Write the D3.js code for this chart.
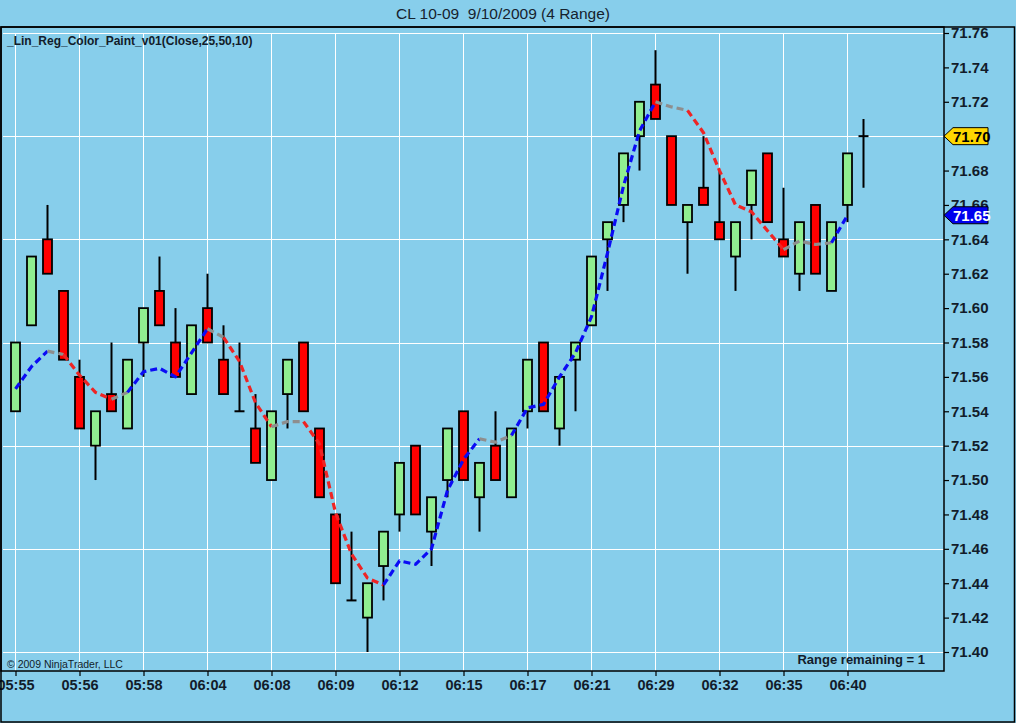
<!DOCTYPE html>
<html>
<head>
<meta charset="utf-8">
<title>CL 10-09 9/10/2009 (4 Range)</title>
<script src="https://cdn.jsdelivr.net/npm/d3@7/dist/d3.min.js"></script>
<style>
  html, body { margin: 0; padding: 0; background: #87ceeb; }
  svg { display: block; }
  .axis-label { font-family: "Liberation Sans Narrow", "Liberation Sans", Arial, sans-serif; font-weight: bold; }
</style>
</head>
<body>
<div id="chart"></div>
<script>
// Range bar chart (4 ticks) with a colour-painted linear regression line.

// ------------------------------------------------------------------
// Data
// ------------------------------------------------------------------
const opens  = [71.54, 71.59, 71.64, 71.61, 71.56, 71.52, 71.55, 71.53, 71.58, 71.61,
                71.58, 71.55, 71.60, 71.57, 71.54, 71.53, 71.50, 71.55, 71.58, 71.53,
                71.48, 71.43, 71.42, 71.45, 71.48, 71.52, 71.47, 71.50, 71.54, 71.49,
                71.52, 71.49, 71.54, 71.58, 71.53, 71.57, 71.59, 71.64, 71.66, 71.70,
                71.73, 71.70, 71.65, 71.67, 71.65, 71.63, 71.66, 71.69, 71.64, 71.62,
                71.66, 71.61, 71.66, 71.70];
const highs  = [71.58, 71.63, 71.66, 71.61, 71.57, 71.54, 71.58, 71.57, 71.60, 71.63,
                71.60, 71.59, 71.62, 71.59, 71.58, 71.55, 71.54, 71.57, 71.58, 71.53,
                71.48, 71.47, 71.44, 71.47, 71.51, 71.52, 71.49, 71.53, 71.54, 71.51,
                71.54, 71.53, 71.57, 71.58, 71.56, 71.58, 71.63, 71.65, 71.69, 71.72,
                71.75, 71.70, 71.66, 71.70, 71.68, 71.65, 71.68, 71.69, 71.67, 71.65,
                71.66, 71.65, 71.69, 71.71];
const lows   = [71.54, 71.59, 71.62, 71.57, 71.53, 71.50, 71.54, 71.53, 71.56, 71.59,
                71.56, 71.55, 71.58, 71.55, 71.54, 71.51, 71.50, 71.53, 71.54, 71.49,
                71.44, 71.43, 71.40, 71.43, 71.47, 71.48, 71.45, 71.49, 71.50, 71.47,
                71.50, 71.49, 71.53, 71.54, 71.52, 71.54, 71.59, 71.61, 71.65, 71.68,
                71.71, 71.66, 71.62, 71.66, 71.64, 71.61, 71.64, 71.65, 71.63, 71.61,
                71.62, 71.61, 71.65, 71.67];
const closes = [71.58, 71.63, 71.62, 71.57, 71.53, 71.54, 71.54, 71.57, 71.60, 71.59,
                71.56, 71.59, 71.58, 71.55, 71.54, 71.51, 71.54, 71.57, 71.54, 71.49,
                71.44, 71.43, 71.44, 71.47, 71.51, 71.48, 71.49, 71.53, 71.50, 71.51,
                71.50, 71.53, 71.57, 71.54, 71.56, 71.58, 71.63, 71.65, 71.69, 71.72,
                71.71, 71.66, 71.66, 71.66, 71.64, 71.65, 71.68, 71.65, 71.63, 71.65,
                71.62, 71.65, 71.69, 71.70];

// linear regression value per bar (last bar has none yet)
const linReg = [71.553, 71.566, 71.575, 71.573, 71.561, 71.551, 71.547, 71.551, 71.563, 71.565,
                71.560, 71.574, 71.588, 71.583, 71.569, 71.545, 71.531, 71.534, 71.534, 71.521,
                71.481, 71.457, 71.443, 71.439, 71.453, 71.451, 71.460, 71.494, 71.512, 71.524,
                71.522, 71.526, 71.542, 71.544, 71.560, 71.574, 71.595, 71.632, 71.671, 71.703,
                71.720, 71.717, 71.715, 71.702, 71.680, 71.660, 71.656, 71.645, 71.634, 71.639,
                71.637, 71.638, 71.654];
// paint of the segment that ends on each bar: b = rising, r = falling, g = flat
const linRegPaint = ["b", "b", "b", "g", "r", "r", "r", "g", "b", "b",
                     "b", "b", "b", "g", "r", "r", "r", "g", "g", "r",
                     "r", "r", "r", "r", "b", "b", "b", "b", "b", "b",
                     "g", "g", "b", "b", "b", "b", "b", "b", "b", "b",
                     "b", "g", "g", "r", "r", "r", "r", "r", "r", "g",
                     "g", "g", "b"];

const timeLabels = ["05:55", "05:56", "05:58", "06:04", "06:08", "06:09", "06:12",
                    "06:15", "06:17", "06:21", "06:29", "06:32", "06:35", "06:40"];
const priceTicks = [71.40, 71.42, 71.44, 71.46, 71.48, 71.50, 71.52, 71.54, 71.56, 71.58,
                    71.60, 71.62, 71.64, 71.66, 71.68, 71.70, 71.72, 71.74, 71.76];
const gridPrices = [71.40, 71.46, 71.52, 71.58, 71.64, 71.70, 71.76];

const lastPrice = 71.70;
const linRegLast = 71.654;

// ------------------------------------------------------------------
// Layout
// ------------------------------------------------------------------
const width = 1016;
const height = 723;
const plot = { left: 1, top: 27, right: 944, bottom: 671 };
const barsPerLabel = 4;
const inkColor = "#121c2a";

const paintColor = { b: "#0b0bf5", r: "#ee2424", g: "#8e8e8e" };

const svg = d3.select("#chart")
  .append("svg")
  .attr("width", width)
  .attr("height", height);

svg.append("rect")
  .attr("width", width)
  .attr("height", height)
  .attr("fill", "#87ceeb");

const x = d3.scaleLinear()
  .domain([0, opens.length - 1])
  .range([15.5, 15.5 + 16 * (opens.length - 1)]);

const y = d3.scaleLinear()
  .domain([71.40, 71.76])
  .range([652, 33]);

// ------------------------------------------------------------------
// Grid
// ------------------------------------------------------------------
const tickIndex = timeLabels.map((d, i) => i * barsPerLabel);
const gridG = svg.append("g").attr("class", "grid");

gridG.selectAll("line.h")
  .data(gridPrices)
  .join("line")
  .attr("class", "h")
  .attr("x1", plot.left + 2)
  .attr("x2", plot.right)
  .attr("y1", d => Math.round(y(d)) + 0.5)
  .attr("y2", d => Math.round(y(d)) + 0.5)
  .attr("stroke", "#ffffff")
  .attr("stroke-width", 1);

gridG.selectAll("line.v")
  .data(tickIndex)
  .join("line")
  .attr("class", "v")
  .attr("x1", d => x(d))
  .attr("x2", d => x(d))
  .attr("y1", y(71.76))
  .attr("y2", plot.bottom)
  .attr("stroke", "#ffffff")
  .attr("stroke-width", 1);

// ------------------------------------------------------------------
// Candles
// ------------------------------------------------------------------
const bars = opens.map((o, i) => ({
  i, o, h: highs[i], l: lows[i], c: closes[i]
}));

const barG = svg.append("g").attr("class", "bars");
const bodyHalf = 4.5;

barG.selectAll("line.wick")
  .data(bars)
  .join("line")
  .attr("class", "wick")
  .attr("x1", d => x(d.i))
  .attr("x2", d => x(d.i))
  .attr("y1", d => y(d.h))
  .attr("y2", d => y(d.l))
  .attr("stroke", "#000")
  .attr("stroke-width", 2);

barG.selectAll("rect.body")
  .data(bars.filter(d => d.o !== d.c))
  .join("rect")
  .attr("class", "body")
  .attr("x", d => x(d.i) - bodyHalf)
  .attr("width", bodyHalf * 2)
  .attr("y", d => y(Math.max(d.o, d.c)))
  .attr("height", d => Math.abs(y(d.o) - y(d.c)))
  .attr("fill", d => (d.c > d.o ? "#90ee90" : "#ff0000"))
  .attr("stroke", "#000")
  .attr("stroke-width", 1.8);

// open == close: flat dash
barG.selectAll("line.doji")
  .data(bars.filter(d => d.o === d.c))
  .join("line")
  .attr("class", "doji")
  .attr("x1", d => x(d.i) - 5)
  .attr("x2", d => x(d.i) + 5)
  .attr("y1", d => y(d.c))
  .attr("y2", d => y(d.c))
  .attr("stroke", "#000")
  .attr("stroke-width", 2);

// ------------------------------------------------------------------
// Painted linear regression line (runs of equal colour)
// ------------------------------------------------------------------
const runs = [];
for (let i = 1; i < linReg.length; i++) {
  const paint = linRegPaint[i];
  const last = runs[runs.length - 1];
  if (last && last.paint === paint) {
    last.pts.push(i);
  } else {
    runs.push({ paint, pts: [i - 1, i] });
  }
}

const regLine = d3.line()
  .x(d => x(d))
  .y(d => y(linReg[d]));

svg.append("g")
  .attr("class", "linreg")
  .selectAll("path")
  .data(runs)
  .join("path")
  .attr("d", d => regLine(d.pts))
  .attr("fill", "none")
  .attr("stroke", d => paintColor[d.paint])
  .attr("stroke-width", 3.2)
  .attr("stroke-dasharray", "7,4")
  .attr("stroke-linejoin", "round");

// ------------------------------------------------------------------
// Axes
// ------------------------------------------------------------------
const yAxisG = svg.append("g")
  .attr("transform", `translate(${plot.right},0)`)
  .call(d3.axisRight(y).tickValues(priceTicks).tickSize(5).tickPadding(2)
    .tickFormat(d3.format(".2f")));

const xAxisG = svg.append("g")
  .attr("transform", `translate(0,${plot.bottom})`)
  .call(d3.axisBottom(x).tickValues(tickIndex).tickSize(5).tickPadding(4)
    .tickFormat((d, i) => timeLabels[i]));

[yAxisG, xAxisG].forEach(g => {
  g.select(".domain").remove();
  g.selectAll("line").attr("stroke", "#000").attr("stroke-width", 1.2);
  g.selectAll("text")
    .attr("class", "axis-label")
    .style("fill", inkColor);
});
yAxisG.selectAll("text").style("font-size", "15px");
xAxisG.selectAll("text").style("font-size", "14.5px");

// frames
svg.append("rect")
  .attr("x", plot.left)
  .attr("y", plot.top)
  .attr("width", width - 1.5 - plot.left)
  .attr("height", height - 1 - plot.top)
  .attr("fill", "none")
  .attr("stroke", "#000")
  .attr("stroke-width", 1.5);

svg.append("rect")
  .attr("x", plot.left)
  .attr("y", plot.top)
  .attr("width", plot.right - plot.left)
  .attr("height", plot.bottom - plot.top)
  .attr("fill", "none")
  .attr("stroke", "#000")
  .attr("stroke-width", 1.5);

// ------------------------------------------------------------------
// Price tags on the axis
// ------------------------------------------------------------------
function priceTag(value, fill, textColor) {
  const cy = y(value);
  const x0 = plot.right;
  const g = svg.append("g").attr("class", "price-tag");
  g.append("path")
    .attr("d", `M${x0},${cy} L${x0 + 9},${cy - 8.5} L${x0 + 44},${cy - 8.5} L${x0 + 44},${cy + 8.5} L${x0 + 9},${cy + 8.5} Z`)
    .attr("fill", fill)
    .attr("stroke", "#000")
    .attr("stroke-width", 1);
  g.append("text")
    .attr("class", "axis-label")
    .attr("x", x0 + 9)
    .attr("y", cy)
    .attr("dy", "0.36em")
    .style("fill", textColor)
    .style("font-size", "15px")
    .text(d3.format(".2f")(value));
}

priceTag(lastPrice, "#ffd700", "#000");
priceTag(linRegLast, "#0000ee", "#ffffff");

// ------------------------------------------------------------------
// Texts
// ------------------------------------------------------------------
svg.append("text")
  .attr("x", 503)
  .attr("y", 19)
  .attr("text-anchor", "middle")
  .style("white-space", "pre")
  .style("font-family", "'Liberation Sans', Arial, sans-serif")
  .style("font-size", "15.5px")
  .attr("fill", "#16222e")
  .text("CL 10-09  9/10/2009 (4 Range)");

svg.append("text")
  .attr("x", 7)
  .attr("y", 45)
  .style("font-family", "'Liberation Sans', Arial, sans-serif")
  .style("font-size", "12px")
  .style("font-weight", "bold")
  .attr("fill", inkColor)
  .text("_Lin_Reg_Color_Paint_v01(Close,25,50,10)");

svg.append("text")
  .attr("x", 7)
  .attr("y", 668)
  .style("font-family", "'Liberation Sans', Arial, sans-serif")
  .style("font-size", "10.5px")
  .attr("fill", inkColor)
  .text("\u00a9 2009 NinjaTrader, LLC");

svg.append("text")
  .attr("x", 925)
  .attr("y", 664)
  .attr("text-anchor", "end")
  .style("font-family", "'Liberation Sans', Arial, sans-serif")
  .style("font-size", "13px")
  .style("font-weight", "bold")
  .attr("fill", inkColor)
  .text("Range remaining = 1");
</script>
</body>
</html>
